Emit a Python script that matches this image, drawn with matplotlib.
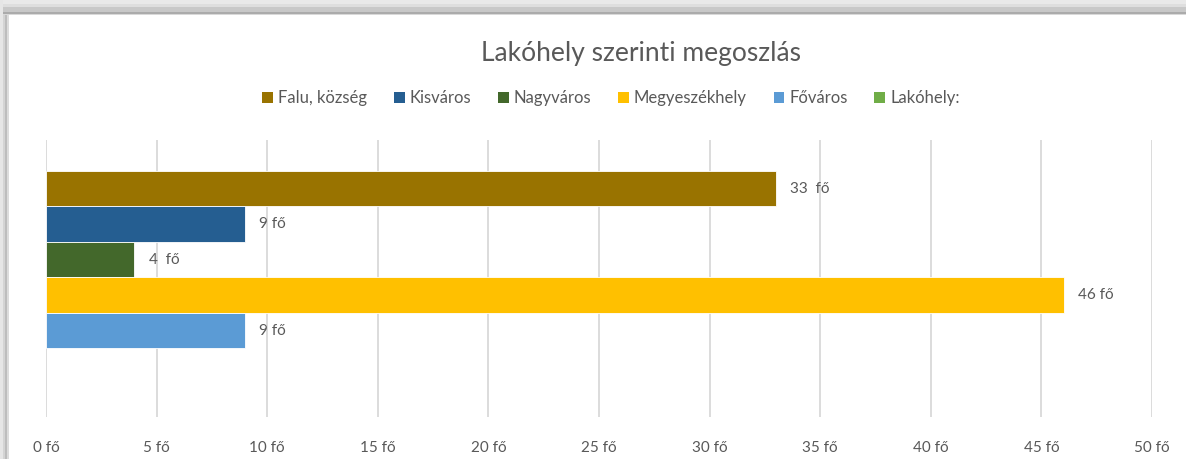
import matplotlib
matplotlib.use("Agg")
import matplotlib.pyplot as plt
from matplotlib.patches import Rectangle

series = ["Falu, község", "Kisváros", "Nagyváros", "Megyeszékhely", "Főváros", "Lakóhely:"]
values = [33, 9, 4, 46, 9, 0]
labels = ["33  fő", "9 fő", "4  fő", "46 fő", "9 fő", None]
colors = ["#997300", "#255E91", "#43682B", "#FFC000", "#5B9BD5", "#70AD47"]
xticks = [0, 5, 10, 15, 20, 25, 30, 35, 40, 45, 50]
xticklabels = [f"{t} fő" for t in xticks]
title = "Lakóhely szerinti megoszlás"

plt.rcParams['font.family'] = ['Lato', 'DejaVu Sans']
W, H = 1186, 459
fig = plt.figure(figsize=(W / 100, H / 100), dpi=100)
fig.patch.set_facecolor("white")

# shadow frame (top and left)
def band(x0, y0, w, h, c):
    fig.patches.append(Rectangle((x0 / W, 1 - (y0 + h) / H), w / W, h / H,
                                 transform=fig.transFigure, color=c, zorder=0, lw=0))
band(0, 0, W, 4, "#e9e9e9")
band(0, 4, W, 3, "#dedede")
band(0, 7, W, 5, "#c8c8c8")
band(0, 12, W, 1.5, "#ababab")
band(0, 13.5, W, 1.5, "#d9d9d9")
band(0, 0, 3, H, "#e6e6e6")
band(3, 15, 2, H, "#d4d4d4")
band(5, 15, 2, H, "#bdbdbd")
band(7, 15, 1.5, H, "#dcdcdc")

ax = fig.add_axes([46 / W, 1 - 417 / H, (1152 - 46) / W, (417 - 140) / H])
ax.set_facecolor("white")
ypos = list(range(len(series)))
for i, (s, v, c) in enumerate(zip(series, values, colors)):
    ax.barh(ypos[i], v, height=1.0, color=c, edgecolor="white",
            linewidth=0.6 if v > 0 else 0, label=s, zorder=3)
    if labels[i]:
        ax.text(v + 0.65, ypos[i], labels[i], va="center", ha="left",
                fontsize=11, color="#595959", zorder=4)

ax.set_xlim(0, 50)
ax.set_ylim(5.5 + 0.93, -0.5 - 0.87)
ax.set_xticks(xticks)
ax.set_xticklabels(xticklabels, fontsize=11, color="#595959")
ax.set_yticks([])
ax.tick_params(axis="x", length=0, pad=17)
ax.grid(axis="x", color="#d9d9d9", linewidth=1.3, zorder=0)
for sp in ax.spines.values():
    sp.set_visible(False)

fig.text(641 / W, 1 - 53 / H, title, ha="center", va="center", fontsize=19, color="#595959")
handles, lbls = ax.get_legend_handles_labels()
leg = fig.legend(handles, lbls, loc="center", bbox_to_anchor=(611 / W, 1 - 98 / H), ncol=6,
                 frameon=False, fontsize=12, handlelength=0.65, handleheight=0.65,
                 handletextpad=0.3, columnspacing=1.6, labelcolor="#595959")
for h in leg.legend_handles:
    h.set_edgecolor("none")

fig.savefig("out.png", dpi=100, facecolor="white")
